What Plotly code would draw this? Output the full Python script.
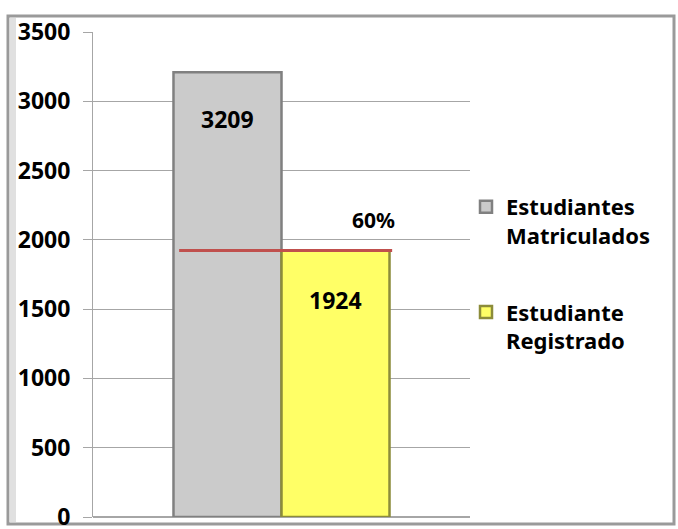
import plotly.graph_objects as go

categories = ["Estudiantes"]
series_names = ["Estudiantes<br>Matriculados", "Estudiante<br>Registrado"]
matriculados = [3209]
registrado = [1924]
y_ticks = [0, 500, 1000, 1500, 2000, 2500, 3000, 3500]

FONT = "Noto Sans"
W, H = 678, 529
ML, MR, MT, MB = 93, 208, 32, 12
PW = W - ML - MR
PH = H - MT - MB
BARGAP = 0.427

def px_to_paper_x(px):
    return (px - ML) / PW

def px_to_paper_y(py):
    return (H - MB - py) / PH

fig = go.Figure()
fig.add_trace(go.Bar(
    x=categories, y=matriculados, name=f"<b>{series_names[0]}</b>",
    marker=dict(color="#cbcbcb", line=dict(color="#808080", width=2.5)),
    legendgroup="a",
))
fig.add_trace(go.Bar(
    x=categories, y=registrado, name=f"<b>{series_names[1]}</b>",
    marker=dict(color="#ffff66", line=dict(color="#8c8c3a", width=2.5)),
    legendgroup="b",
))

half = (1 - BARGAP) / 2
# red reference line at registered level
fig.add_shape(type="line", xref="x", yref="y",
              x0=-half + 0.015, x1=half + 0.007,
              y0=registrado[0], y1=registrado[0],
              line=dict(color="#c0504d", width=3))

# value labels
fig.add_annotation(x=-half / 2, y=matriculados[0], xref="x", yref="y",
                   text=f"<b>{matriculados[0]}</b>", showarrow=False,
                   yshift=-47, font=dict(family=FONT, size=23, color="black"))
fig.add_annotation(x=half / 2, y=registrado[0], xref="x", yref="y",
                   text=f"<b>{registrado[0]}</b>", showarrow=False,
                   yshift=-50, font=dict(family=FONT, size=23, color="black"))
pct = round(100 * registrado[0] / matriculados[0])
fig.add_annotation(x=half / 2 + 0.1, y=registrado[0], xref="x", yref="y",
                   text=f"<b>{pct}%</b>", showarrow=False,
                   yshift=30, font=dict(family=FONT, size=21, color="black"))

# chart frame
fig.add_shape(type="rect", xref="paper", yref="paper", layer="below",
              x0=px_to_paper_x(8), x1=px_to_paper_x(674),
              y0=px_to_paper_y(524), y1=px_to_paper_y(16),
              line=dict(color="#9a9a9a", width=3), fillcolor="white")
fig.add_shape(type="rect", xref="paper", yref="paper", layer="below",
              x0=px_to_paper_x(9.5), x1=px_to_paper_x(16),
              y0=px_to_paper_y(522), y1=px_to_paper_y(18),
              line=dict(width=0), fillcolor="#e0e0e0")

fig.update_layout(
    width=W, height=H,
    margin=dict(l=ML, r=MR, t=MT, b=MB, autoexpand=False),
    paper_bgcolor="white", plot_bgcolor="white",
    barmode="group", bargap=BARGAP, bargroupgap=0,
    showlegend=True,
    legend=dict(x=px_to_paper_x(466), y=px_to_paper_y(186),
                xanchor="left", yanchor="top",
                font=dict(family=FONT, size=22, color="black"),
                valign="top", tracegroupgap=45, traceorder="grouped",
                itemwidth=30,
                bgcolor="rgba(0,0,0,0)"),
    font=dict(family=FONT, color="black"),
)
fig.update_xaxes(showticklabels=False, showgrid=False, zeroline=False,
                 range=[-0.5, 0.5], showline=False, automargin=False)
fig.update_yaxes(range=[0, 3500], tickvals=y_ticks,
                 ticktext=[f"<b>{v}</b>" for v in y_ticks],
                 showgrid=True, gridcolor="#a6a6a6", gridwidth=1,
                 zeroline=True, zerolinecolor="#a6a6a6",
                 showline=True, linecolor="#a6a6a6", linewidth=1,
                 ticks="outside", ticklen=9, tickcolor="#a6a6a6",
                 ticklabelstandoff=8, ticklabeloverflow="allow",
                 automargin=False,
                 tickfont=dict(family=FONT, size=23, color="black"))

fig.write_html("out.html", config={"displayModeBar": False},
               post_script="document.body.style.margin='0';document.body.style.overflow='hidden';")
